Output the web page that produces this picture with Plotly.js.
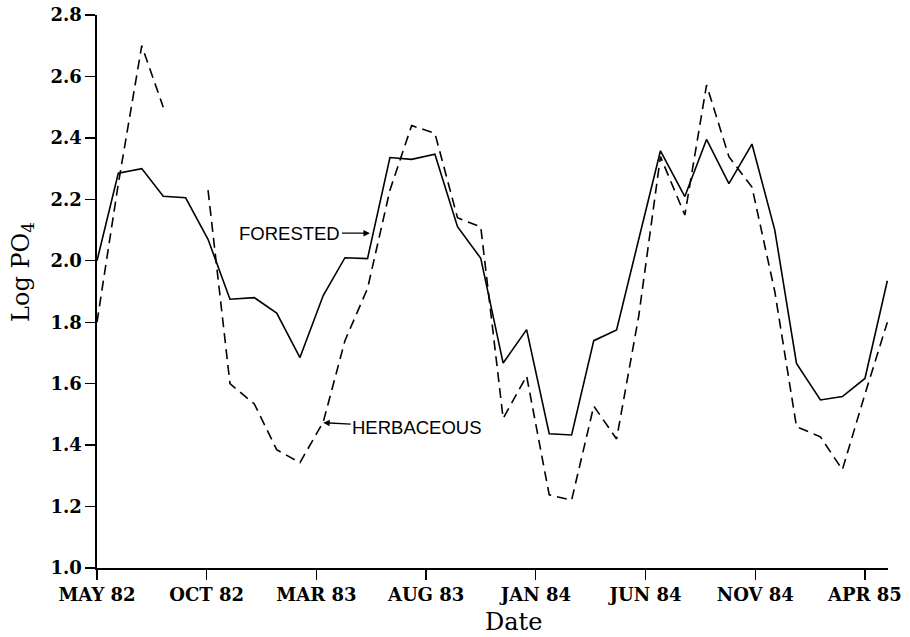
<!DOCTYPE html>
<html>
<head>
<meta charset="utf-8">
<script src="https://cdn.plot.ly/plotly-3.0.1.min.js"></script>
<style>html,body{margin:0;padding:0;background:#fff;}#chart{width:910px;height:637px;}</style>
</head>
<body>
<div id="chart"></div>
<script>
// Sampling times, in months after May 1982
const months = [0, 0.97, 2.04, 3.02, 4.04, 5.06, 6.06, 7.17, 8.19, 9.25, 10.31, 11.30,
  12.33, 13.35, 14.34, 15.40, 16.43, 17.49, 18.51, 19.58, 20.61, 21.63, 22.64, 23.68,
  24.69, 25.68, 26.79, 27.78, 28.80, 29.85, 30.89, 31.88, 32.97, 33.97, 35.00, 36.02];

const forested = [2.00, 2.285, 2.30, 2.21, 2.205, 2.07, 1.875, 1.88, 1.83, 1.685, 1.887, 2.01,
  2.007, 2.336, 2.33, 2.347, 2.111, 2.008, 1.667, 1.776, 1.437, 1.433, 1.74, 1.775,
  2.07, 2.358, 2.209, 2.395, 2.251, 2.38, 2.10, 1.666, 1.547, 1.558, 1.617, 1.935];

const herbaceous = [1.80, 2.25, 2.70, 2.50, null, 2.23, 1.60, 1.534, 1.385, 1.343, 1.475, 1.74,
  1.91, 2.23, 2.44, 2.415, 2.14, 2.11, 1.487, 1.625, 1.238, 1.221, 1.527, 1.42,
  1.82, 2.339, 2.149, 2.572, 2.339, 2.24, 1.90, 1.46, 1.427, 1.32, 1.566, 1.80];

const tickMonths = [0, 5, 10, 15, 20, 25, 30, 35];
const tickLabels = ['MAY 82', 'OCT 82', 'MAR 83', 'AUG 83', 'JAN 84', 'JUN 84', 'NOV 84', 'APR 85'];
const yTicks = [1.0, 1.2, 1.4, 1.6, 1.8, 2.0, 2.2, 2.4, 2.6, 2.8];

const tickFont = {family: 'DejaVu Serif', size: 18, color: '#000', weight: 'bold'};
const labelFont = {family: 'Liberation Sans', size: 18.5, color: '#000'};
const titleFont = {family: 'DejaVu Serif', size: 24, color: '#000'};

const traces = [
  {x: months, y: forested, type: 'scatter', mode: 'lines', name: 'FORESTED',
   line: {color: '#000', width: 1.6}},
  {x: months, y: herbaceous, type: 'scatter', mode: 'lines', name: 'HERBACEOUS',
   connectgaps: false, line: {color: '#000', width: 1.6, dash: '10px,6px'}}
];

const layout = {
  width: 910, height: 637,
  margin: {l: 97, r: 22, t: 15, b: 69},
  paper_bgcolor: '#fff', plot_bgcolor: '#fff',
  showlegend: false,
  xaxis: {
    range: [0, 36.05], showgrid: false, zeroline: false,
    showline: true, linecolor: '#000', linewidth: 1.6,
    ticks: 'outside', ticklen: 10, tickwidth: 1.3, tickcolor: '#000',
    tickvals: tickMonths, ticktext: tickLabels, tickfont: tickFont
  },
  yaxis: {
    range: [1.0, 2.8], showgrid: false, zeroline: false,
    showline: true, linecolor: '#000', linewidth: 1.6,
    ticks: 'outside', ticklen: 10, tickwidth: 1.3, tickcolor: '#000',
    tickvals: yTicks, tickformat: '.1f', tickfont: tickFont
  },
  annotations: [
    {x: 0.526, y: -0.097, xref: 'paper', yref: 'paper', text: 'Date', font: titleFont,
     showarrow: false, xanchor: 'center', yanchor: 'middle'},
    {x: -0.095, y: 0.535, xref: 'paper', yref: 'paper', text: 'Log PO<sub>4</sub>', font: titleFont,
     showarrow: false, textangle: -90, xanchor: 'center', yanchor: 'middle'},
    {x: 12.44, y: 2.09, xref: 'x', yref: 'y', text: 'FORESTED', font: labelFont,
     showarrow: true, ax: -80, ay: 0, arrowhead: 2, arrowsize: 1, arrowwidth: 1.3, arrowcolor: '#000', standoff: 0},
    {x: 10.31, y: 1.473, xref: 'x', yref: 'y', text: 'HERBACEOUS', font: labelFont,
     showarrow: true, ax: 94, ay: 5, arrowhead: 2, arrowsize: 1, arrowwidth: 1.3, arrowcolor: '#000', standoff: 0}
  ]
};

Plotly.newPlot('chart', traces, layout, {displayModeBar: false, staticPlot: true});
</script>
</body>
</html>
